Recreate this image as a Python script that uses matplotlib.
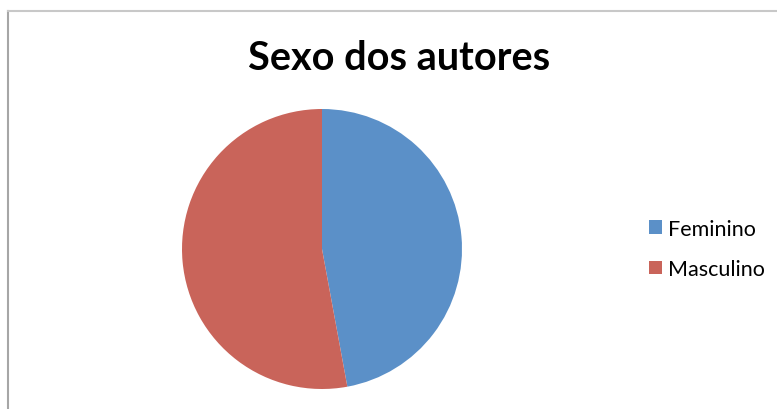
import matplotlib.pyplot as plt
from matplotlib.lines import Line2D

labels = ["Feminino", "Masculino"]
valores = [47.1, 52.9]
cores = ["#5B90C8", "#C9645A"]

plt.rcParams['font.family'] = ['Lato', 'DejaVu Sans']

fig = plt.figure(figsize=(7.77, 4.10), dpi=100)
W, H = 777, 410

# moldura
fig.add_artist(Line2D([7.5 / W, 7.5 / W], [0, 1 - 11.5 / H], color="#A6A6A6", lw=1.5))
fig.add_artist(Line2D([7.5 / W, 1], [1 - 11.5 / H, 1 - 11.5 / H], color="#C8C8C8", lw=1.5))

# pizza: centro (322, 250), raio 140
ax = fig.add_axes([182 / W, 1 - 390 / H, 280 / W, 280 / H])
wedges, _ = ax.pie(valores, colors=cores, startangle=90, counterclock=False,
                   wedgeprops=dict(linewidth=0))
ax.set_xlim(-1, 1)
ax.set_ylim(-1, 1)
ax.set_aspect("equal")
ax.axis("off")

fig.text(399 / W, 1 - 58 / H, "Sexo dos autores", ha="center", va="center",
         fontsize=28.5, fontweight="bold")

fig.legend(wedges, labels, loc="center left", bbox_to_anchor=(630 / W, 1 - 250 / H),
           frameon=False, fontsize=15.5, handlelength=0.58, handleheight=0.58,
           handletextpad=0.3, labelspacing=0.95)

fig.savefig("out.png", dpi=100)
